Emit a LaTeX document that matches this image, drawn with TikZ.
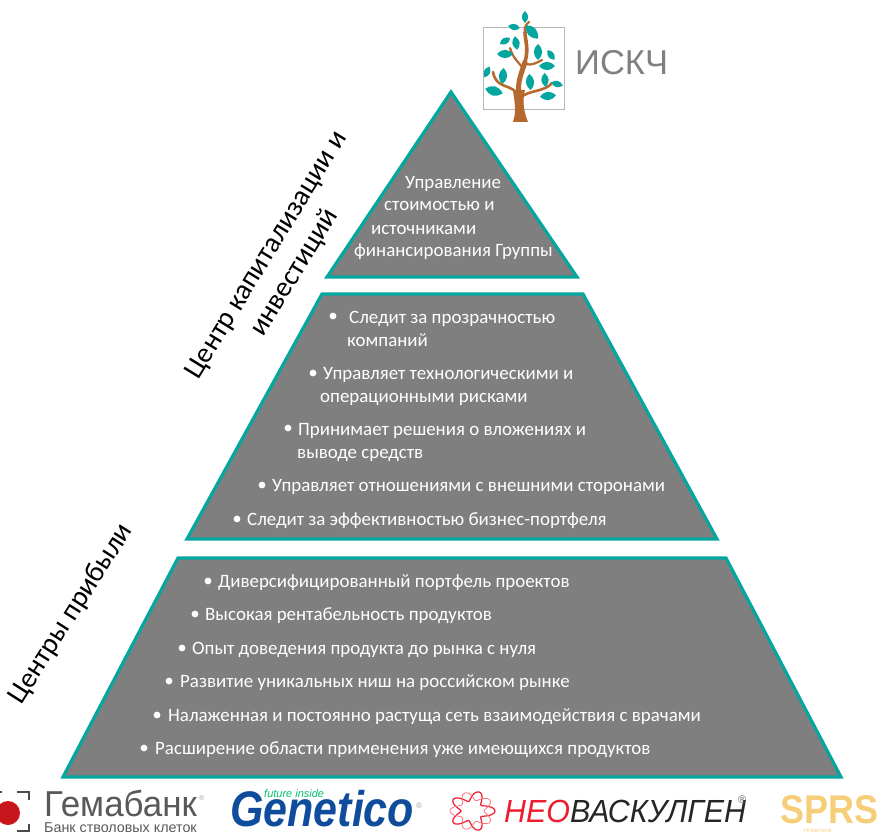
\documentclass[tikz,border=0pt]{standalone}
\usepackage{fontspec}
\setmainfont{Carlito}
\newfontfamily\logofont{Liberation Sans}
\definecolor{pyrteal}{HTML}{05A6A0}
\definecolor{pyrgray}{HTML}{7F7F7F}
\definecolor{trunkbrown}{HTML}{B5692E}
\definecolor{gemared}{HTML}{C8161D}
\definecolor{genblue}{HTML}{0F4C9C}
\definecolor{neored}{HTML}{EE1C2E}
\definecolor{spgold}{HTML}{F6CE7A}
\tikzset{
    pyrpart/.style={draw=pyrteal,fill=pyrgray,line width=3.2pt,line join=miter},
    pyrtext/.style={anchor=base west,text=white,font=\fontsize{18.9}{19}\selectfont,inner sep=0pt},
    pyrdot/.style={circle,fill=white,inner sep=2.4pt},
    sidetext/.style={align=center,font=\fontsize{28.5}{33}\selectfont,inner sep=0pt},
    logotext/.style={anchor=base west,inner sep=0pt},
    branch/.style={draw=trunkbrown,line cap=round,line join=round}
}
\begin{document}
\begin{tikzpicture}[x=1pt,y=-1pt]
    \clip (0,0) rectangle (879,832);
    \fill[white] (0,0) rectangle (879,832);

    % pyramid
    \draw[pyrpart] (451,92) -- (577,277) -- (327,277) -- cycle;
    \draw[pyrpart] (322,294) -- (583,294) -- (717,539) -- (187,539) -- cycle;
    \draw[pyrpart] (178,558) -- (726,558) -- (841,777) -- (63,777) -- cycle;

    % top part
    \foreach \x/\y/\t [count=\i] in {405/189/Управление,384/211/стоимостью и,371/234/источниками,354/257/финансирования Группы}
        \node[pyrtext] (top\i) at (\x,\y) {\t};

    % middle part
    \foreach \x/\y/\t [count=\i] in {349/323/Следит за прозрачностью,347/346/компаний,323/379/Управляет технологическими и,320/402/операционными рисками,298/435/Принимает решения о вложениях и,297/458/выводе средств,272/491/Управляет отношениями с внешними сторонами,247/525/Следит за эффективностью бизнес-портфеля}
        \node[pyrtext] (mid\i) at (\x,\y) {\t};
    \foreach \x/\y [count=\i] in {333/316,313/373,288/428,262/485,237/519}
        \node[pyrdot] (middot\i) at (\x,\y) {};

    % bottom part
    \foreach \x/\y/\t [count=\i] in {218/587/Диверсифицированный портфель проектов,205/620/Высокая рентабельность продуктов,192/654/Опыт доведения продукта до рынка с нуля,180/687/Развитие уникальных ниш на российском рынке,168/721/Налаженная и постоянно растуща сеть взаимодействия с врачами,155/754/Расширение области применения уже имеющихся продуктов}
        \node[pyrtext] (bot\i) at (\x,\y) {\t};
    \foreach \x/\y [count=\i] in {208/581,195/614,182/648,169/681,157/715,144/748}
        \node[pyrdot] (botdot\i) at (\x,\y) {};

    % side labels
    \node[sidetext,rotate=58.5] (capital) at (281,264) {Центр капитализации и\\инвестиций};
    \node[sidetext,rotate=57.5] (profit) at (71,614) {Центры прибыли};

    % tree logo
    \draw[gray!55,line width=1pt] (483,28) rectangle (564,110);
    \fill[trunkbrown] (513,122) .. controls (517,110) and (514,100) .. (513,90)
        -- (525,90) .. controls (522,102) and (524,112) .. (528,122) -- cycle;
    \draw[branch,line width=5pt] (519,94) .. controls (517,82) and (522,72) .. (525,62);
    \draw[branch,line width=3.6pt] (525,62) .. controls (529,48) and (525,40) .. (525,32);
    \draw[branch,line width=2.2pt] (525,32) .. controls (524,28) and (526,24) .. (529,22);
    \draw[branch,line width=2.6pt] (516,92) .. controls (508,84) and (496,88) .. (493,72);
    \draw[branch,line width=2.6pt] (520,98) .. controls (528,90) and (545,92) .. (552,83);
    \draw[branch,line width=2.2pt] (523,68) .. controls (518,62) and (513,58) .. (510,48);
    \draw[branch,line width=2.2pt] (525,64) .. controls (532,66) and (538,62) .. (542,60);
    \foreach \x/\y/\r/\l in {525/17/90/6,514/27/-10/6,532/32/-48/9,505/41/30/6,516/43/-80/7,505/54/0/8,538/52/-90/8,551/55/-55/6,547/66/0/8,487/72/65/6,503/76/85/8,494/91/-15/9,530/82/-85/8,545/80/95/7,557/84/-15/6,548/96/5/8}
        \fill[pyrteal,shift={(\x,\y)},rotate=\r]
            (-\l,0) .. controls (-\l/3,0.7*\l) and (\l/3,0.7*\l) .. (\l,0)
            .. controls (\l/3,-0.7*\l) and (-\l/3,-0.7*\l) .. (-\l,0) -- cycle;
    \node[logotext,text=gray,font=\logofont\fontsize{34.5}{35}\selectfont] (iskch) at (575,75) {ИСКЧ};

    % gemabank logo
    \fill[gemared] (8,813) circle (12);
    \draw[black!70,line width=2.2pt] (17,792) -- (29,792) -- (29,800);
    \draw[black!70,line width=2.2pt] (17,831) -- (29,831) -- (29,824);
    \fill[black!70] (0,791) rectangle (2,793);
    \node[logotext,text=black!65,font=\logofont\fontsize{36}{36}\selectfont,xscale=0.97] (gema) at (44,816) {Гемабанк};
    \node[logotext,text=gray!70,font=\logofont\fontsize{7}{7}\selectfont] (gemareg) at (199,800) {®};
    \node[logotext,text=black!65,font=\logofont\fontsize{14.3}{15}\selectfont] (gemasub) at (44,832) {Банк стволовых клеток};

    % genetico logo
    \node[logotext,text=genblue,font=\logofont\bfseries\itshape\fontsize{50}{50}\selectfont,xscale=0.86] (genet) at (230,826) {Genetico};
    \node[logotext,text=pyrteal!70!green,font=\logofont\itshape\fontsize{11}{11}\selectfont] (future) at (264,797) {future inside};
    \node[logotext,text=gray!70,font=\logofont\fontsize{8}{8}\selectfont] (genreg) at (416,808) {®};

    % neovaskulgen logo
    \draw[neored,line width=1.2pt,domain=0:360,samples=90,smooth,variable=\t]
        plot ({472+(17+6*cos(5*\t))*cos(\t)},{811+(15+5*cos(5*\t))*sin(\t)});
    \draw[neored!60,line width=0.8pt,domain=0:360,samples=90,smooth,variable=\t]
        plot ({472+(17-5*cos(5*\t))*cos(\t)},{811+(15-4*cos(5*\t))*sin(\t)});
    \node[logotext,font=\logofont\itshape\fontsize{32}{32}\selectfont,xscale=0.95] (neo) at (504,822) {\textcolor{neored}{НЕО}\textcolor{black!85}{ВАСКУЛГЕН}};
    \node[logotext,text=black!60,font=\logofont\fontsize{11}{11}\selectfont] (neoreg) at (738,803) {®};

    % sprs logo
    \node[logotext,text=spgold,font=\logofont\bfseries\fontsize{40}{40}\selectfont,xscale=0.9] (sprs) at (780,823) {SPRS};
    \node[logotext,text=spgold,font=\logofont\fontsize{6}{6}\selectfont] (terap) at (803,833) {ТЕРАПИЯ};
\end{tikzpicture}
\end{document}
